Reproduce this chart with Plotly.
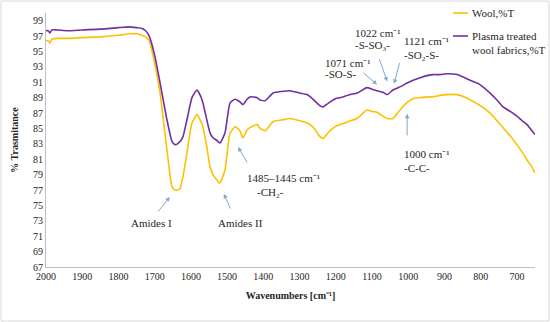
import plotly.graph_objects as go

wavenumber = [2000, 1994, 1989, 1984, 1970, 1940, 1900, 1850, 1800, 1770, 1750, 1735, 1725, 1715,
              1700, 1685, 1666, 1652, 1644, 1637, 1630, 1622, 1611, 1597, 1583, 1569, 1556, 1547,
              1539, 1530, 1520, 1506, 1492, 1478, 1466, 1456, 1445, 1437, 1417, 1409, 1395, 1373,
              1350, 1326, 1300, 1279, 1263, 1245, 1235, 1220, 1200, 1188, 1160, 1141, 1114, 1100,
              1086, 1070, 1058, 1042, 1023, 1003, 985, 967, 945, 931, 912, 893, 865, 840, 821, 802,
              774, 755, 738, 711, 700, 685, 672, 660, 650]
plasma_T = [97.7, 97.7, 97.4, 97.8, 97.8, 97.7, 97.8, 97.9, 98.1, 98.2, 98.1, 98.0, 97.7, 97.0,
            94.5, 90.9, 86.1, 83.3, 82.9, 83.0, 83.3, 83.9, 86.1, 89.0, 90.0, 88.7, 86.1, 84.4,
            83.8, 83.5, 83.1, 84.4, 88.3, 88.8, 88.5, 88.1, 88.8, 89.1, 89.0, 88.7, 88.6, 89.6,
            89.8, 89.9, 89.6, 89.4, 88.8, 88.0, 87.8, 88.3, 88.9, 89.0, 89.4, 89.6, 90.3, 90.1,
            89.9, 89.7, 89.4, 90.0, 90.4, 90.9, 91.3, 91.6, 91.9, 92.0, 92.0, 92.1, 92.0, 91.5, 91.1, 90.7,
            89.6, 88.7, 87.8, 87.0, 86.6, 86.0, 85.5, 84.8, 84.2]
wool_T = [96.4, 96.4, 96.1, 96.6, 96.7, 96.7, 96.8, 96.9, 97.1, 97.3, 97.3, 97.1, 96.9, 96.4,
          93.5, 89.6, 82.2, 77.4, 77.0, 77.0, 77.2, 78.7, 81.8, 85.7, 86.8, 85.5, 82.6, 80.0,
          79.0, 78.4, 77.9, 79.6, 84.4, 85.2, 84.8, 83.8, 84.8, 85.1, 85.5, 85.0, 84.7, 85.9,
          86.1, 86.3, 86.0, 85.7, 85.2, 84.0, 83.7, 84.5, 85.3, 85.5, 86.0, 86.3, 87.4, 87.2,
          87.1, 86.6, 86.3, 86.3, 87.4, 88.4, 88.9, 89.0, 89.1, 89.1, 89.3, 89.4, 89.4, 89.0, 88.5, 88.0,
          87.0, 86.0, 85.1, 83.6, 82.9, 81.9, 80.9, 80.1, 79.2]

x_ticks = list(range(2000, 699, -100))
y_ticks = list(range(67, 100, 2))

YELLOW = "#FFC000"
PURPLE = "#7030A0"
ARROW = "#7FA8D4"
FONT = "Liberation Serif"
TXT = "#262626"

fig = go.Figure()
fig.add_trace(go.Scatter(x=wavenumber, y=wool_T, mode="lines", name="Wool,%T",
                         line=dict(color=YELLOW, width=1.6, shape="spline", smoothing=0.5),
                         showlegend=False))
fig.add_trace(go.Scatter(x=wavenumber, y=plasma_T, mode="lines",
                         name="Plasma treated wool fabrics,%T",
                         line=dict(color=PURPLE, width=1.6, shape="spline", smoothing=0.5),
                         showlegend=False))

annotations = []

def arrow(hx, hy, tx, ty):
    annotations.append(dict(x=hx, y=hy, ax=tx, ay=ty, xref="x", yref="y", axref="x", ayref="y",
                            text="", showarrow=True, arrowhead=2, arrowsize=0.9, arrowwidth=1,
                            arrowcolor=ARROW, standoff=0, startstandoff=0))

def label(x, y, text, xanchor="left"):
    annotations.append(dict(x=x, y=y, xref="x", yref="y", text=text, showarrow=False,
                            xanchor=xanchor, yanchor="middle",
                            font=dict(family=FONT, size=11, color=TXT)))

arrow(1658, 76.1, 1694, 74.0)
label(1710, 72.7, "Amides I", "center")
arrow(1509, 76.5, 1489, 74.4)
label(1462, 72.7, "Amides II", "center")
arrow(1470, 82.6, 1442, 80.4)
label(1451, 78.6, "1485–1445 cm⁻¹")
label(1423, 76.8, "-CH₂-")
arrow(1003, 86.9, 1003, 83.9)
label(1017, 81.7, "1000 cm⁻¹")
label(1017, 79.9, "-C-C-")
arrow(1086, 90.7, 1128, 92.4)
label(1235, 93.5, "1071 cm⁻¹")
label(1235, 92.1, "-SO-S-")
arrow(1058, 91.1, 1081, 94.2)
label(1152, 97.4, "1022 cm⁻¹")
label(1152, 95.9, "-S-SO₃-")
arrow(1039, 90.8, 1023, 93.7)
label(1017, 96.3, "1121 cm⁻¹")
label(1017, 94.6, "-SO₂-S-")

# manual legend
annotations.append(dict(x=0.867, y=1.0, xref="paper", yref="paper", text="Wool,%T",
                        showarrow=False, xanchor="left", yanchor="middle",
                        font=dict(family=FONT, size=11, color=TXT)))
annotations.append(dict(x=0.867, y=0.882, xref="paper", yref="paper",
                        text="Plasma treated<br>wool fabrics,%T", align="left",
                        showarrow=False, xanchor="left", yanchor="middle",
                        font=dict(family=FONT, size=11, color=TXT)))

shapes = [
    dict(type="line", xref="paper", yref="paper", x0=0.8323, x1=0.8630, y0=1.0, y1=1.0,
         line=dict(color=YELLOW, width=1.6)),
    dict(type="line", xref="paper", yref="paper", x0=0.8323, x1=0.8630, y0=0.9094, y1=0.9094,
         line=dict(color=PURPLE, width=1.6)),
    dict(type="rect", xref="paper", yref="paper", x0=-0.092, x1=1.0286, y0=-0.2126, y1=1.047,
         line=dict(color="#D9D9D9", width=1)),
]

fig.update_layout(
    width=550, height=322,
    margin=dict(l=46, r=15, t=13, b=55, autoexpand=False),
    paper_bgcolor="white", plot_bgcolor="white",
    font=dict(family=FONT, size=10, color=TXT),
    annotations=annotations, shapes=shapes,
    xaxis=dict(range=[2000, 650], tickvals=x_ticks, ticktext=[str(t) for t in x_ticks],
               showgrid=False, zeroline=False, showline=True, linecolor="#BFBFBF", linewidth=1,
               ticks="", automargin=False, tickfont=dict(family=FONT, size=10, color=TXT),
               title=dict(text="<b>Wavenumbers [cm⁻¹]</b>", standoff=10,
                          font=dict(family=FONT, size=10, color=TXT))),
    yaxis=dict(range=[67, 100], tickvals=y_ticks, ticktext=[str(t) for t in y_ticks],
               showgrid=False, zeroline=False, showline=True, linecolor="#BFBFBF", linewidth=1,
               ticks="", automargin=False, tickfont=dict(family=FONT, size=10, color=TXT),
               title=dict(text="<b>% Trasmitance</b>", standoff=12,
                          font=dict(family=FONT, size=10, color=TXT))),
)

fig.write_html("out.html", config={"displayModeBar": False},
               post_script="document.body.style.margin='0';")
